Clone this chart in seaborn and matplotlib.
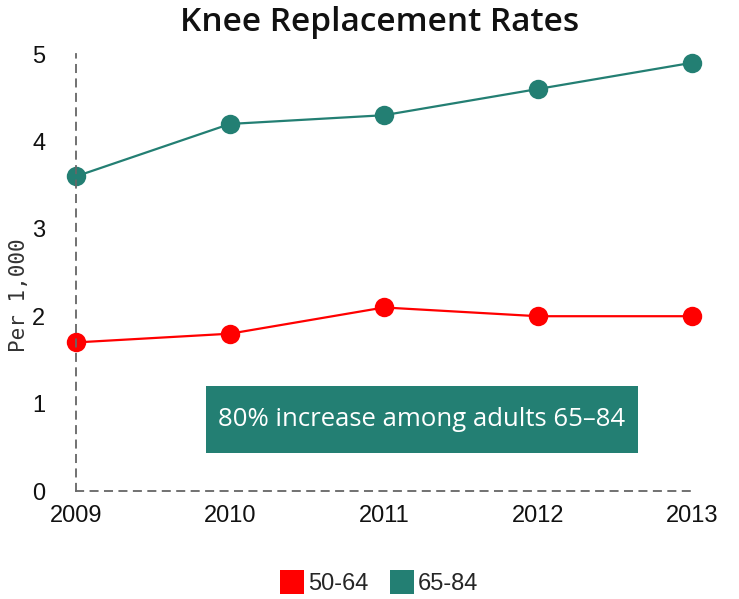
import matplotlib
matplotlib.use("Agg")
import matplotlib.pyplot as plt
import seaborn as sns
import pandas as pd
from matplotlib.lines import Line2D
from matplotlib.patches import Rectangle

years = [2009, 2010, 2011, 2012, 2013]
age_50_64 = [1.7, 1.8, 2.1, 2.0, 2.0]
age_65_84 = [3.6, 4.2, 4.3, 4.6, 4.9]
series_names = ["50-64", "65-84"]
colors = {"50-64": "#FF0000", "65-84": "#237F73"}
title = "Knee Replacement Rates"
ylabel = "Per 1,000"
note = "80% increase among adults 65\u201384"

df = pd.DataFrame({
    "year": years * 2,
    "rate": age_50_64 + age_65_84,
    "group": [series_names[0]] * len(years) + [series_names[1]] * len(years),
})

sns.set_style("white")
plt.rcParams["font.family"] = ["Liberation Sans", "DejaVu Sans"]

fig = plt.figure(figsize=(7.39, 5.99), dpi=100)
ax = fig.add_axes([0.1028, 0.1803, 0.8336, 0.7295])

sns.lineplot(data=df, x="year", y="rate", hue="group", palette=colors,
             marker="o", markersize=14, markeredgewidth=0, linewidth=1.6,
             ax=ax, legend=False)
for l in ax.lines:
    l.set_clip_on(False)

ax.set_xlim(2009, 2013)
ax.set_ylim(0, 5)
ax.set_xticks(years)
ax.set_xticklabels([str(y) for y in years])
ax.set_yticks([0, 1, 2, 3, 4, 5])
ax.tick_params(axis="both", length=0, labelsize=17, colors="#111111")
ax.tick_params(axis="x", pad=10)
ax.tick_params(axis="y", pad=22)
ax.set_xlabel("")
ax.set_ylabel(ylabel, fontsize=15, color="#333333", family="DejaVu Sans Mono")
ax.yaxis.set_label_coords(-0.092, 0.449)
ax.yaxis.label.set_va("center")

for s in ["top", "right"]:
    ax.spines[s].set_visible(False)
for s in ["left", "bottom"]:
    ax.spines[s].set_linestyle((0, (4, 4)))
    ax.spines[s].set_color("#666666")
    ax.spines[s].set_linewidth(1.3)

fig.text(0.513, 0.963, title, ha="center", va="center", fontsize=24,
         fontweight="semibold", family=["Open Sans", "DejaVu Sans"], color="#111111")

# annotation box (figure pixel layout: x 206-638, y 386-453)
fig.patches.append(Rectangle((206 / 739, 1 - 453 / 599), 432 / 739, 67 / 599,
                             transform=fig.transFigure, facecolor="#237F73",
                             edgecolor="none", zorder=1))
fig.text(422 / 739, 1 - 419 / 599, note, ha="center", va="center", fontsize=18.5,
         color="white", family=["Open Sans", "DejaVu Sans"], zorder=2)

handles = [Line2D([0], [0], marker="s", linestyle="none", markersize=17,
                  markerfacecolor=colors[n], markeredgewidth=0) for n in series_names]
fig.legend(handles, series_names, loc="center", bbox_to_anchor=(0.513, 0.025),
           ncol=2, frameon=False, fontsize=17, handletextpad=0.2, columnspacing=0.9,
           handlelength=1.0)

fig.savefig("out.png", dpi=100)
